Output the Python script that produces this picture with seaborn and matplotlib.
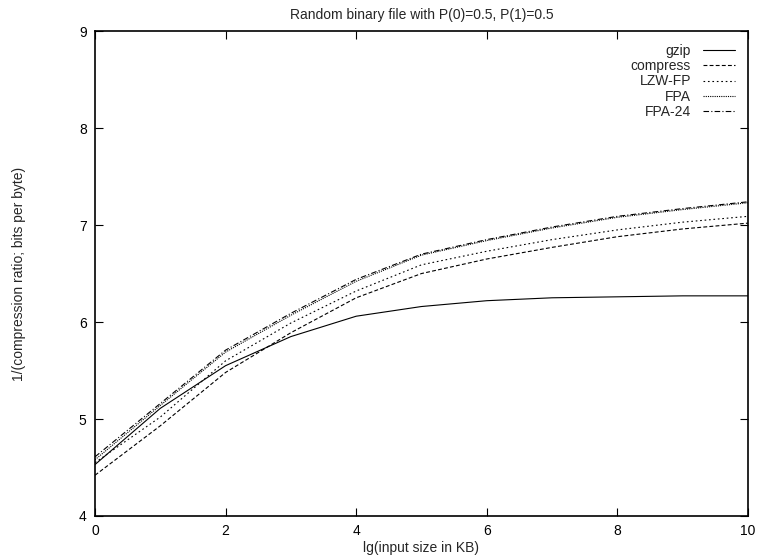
import pandas as pd
import matplotlib
matplotlib.use("Agg")
import matplotlib.pyplot as plt
import seaborn as sns

lg_size = [0, 1, 2, 3, 4, 5, 6, 7, 8, 9, 10]
gzip = [4.53, 5.11, 5.55, 5.85, 6.06, 6.16, 6.22, 6.25, 6.26, 6.27, 6.27]
compress = [4.42, 4.93, 5.48, 5.89, 6.25, 6.50, 6.65, 6.77, 6.88, 6.96, 7.02]
lzw_fp = [4.55, 5.02, 5.60, 5.99, 6.32, 6.59, 6.73, 6.85, 6.95, 7.03, 7.09]
fpa = [4.58, 5.14, 5.69, 6.07, 6.42, 6.69, 6.84, 6.97, 7.08, 7.16, 7.23]
fpa_24 = [4.61, 5.16, 5.71, 6.09, 6.44, 6.70, 6.85, 6.98, 7.09, 7.17, 7.24]
algoritmi = ["gzip", "compress", "LZW-FP", "FPA", "FPA-24"]

df = pd.DataFrame({"x": lg_size * 5,
                   "y": gzip + compress + lzw_fp + fpa + fpa_24,
                   "algo": sum([[a] * len(lg_size) for a in algoritmi], [])})

sns.set_theme(style="ticks")
plt.rcParams["font.family"] = ["Liberation Sans", "DejaVu Sans"]

fig = plt.figure(figsize=(7.57, 5.56), dpi=100)
ax = fig.add_axes([0.1255, 0.072, 0.8625, 0.872])

liniute = {"gzip": "", "compress": (3.5, 2), "LZW-FP": (1.5, 2.5), "FPA": (1, 1), "FPA-24": (5, 2, 1, 2)}
sns.lineplot(data=df, x="x", y="y", hue="algo", style="algo", dashes=liniute,
             palette=["black"] * 5, linewidth=0.8, legend=False, ax=ax)

ax.set_xlim(0, 10)
ax.set_ylim(4, 9)
ax.set_xticks([0, 2, 4, 6, 8, 10])
ax.set_yticks([4, 5, 6, 7, 8, 9])
ax.tick_params(direction="in", top=True, right=True, length=6, width=0.8,
               labelsize=10, colors="black", pad=6)
for s in ax.spines.values():
    s.set_linewidth(1.2)
    s.set_color("black")

ax.set_title("Random binary file with P(0)=0.5, P(1)=0.5", fontsize=10, pad=9)
ax.set_xlabel("lg(input size in KB)", fontsize=10, labelpad=2)
ax.set_ylabel("1/(compression ratio; bits per byte)", fontsize=10, labelpad=38)

# markerfirst=False -> textul la stanga, aliniat la dreapta
ax.legend(ax.lines[:5], algoritmi, loc="upper right", frameon=False,
          markerfirst=False, fontsize=10, handlelength=2.3,
          labelspacing=0.1, handletextpad=0.9, borderaxespad=0.5)

plt.savefig("out.png", dpi=100)
